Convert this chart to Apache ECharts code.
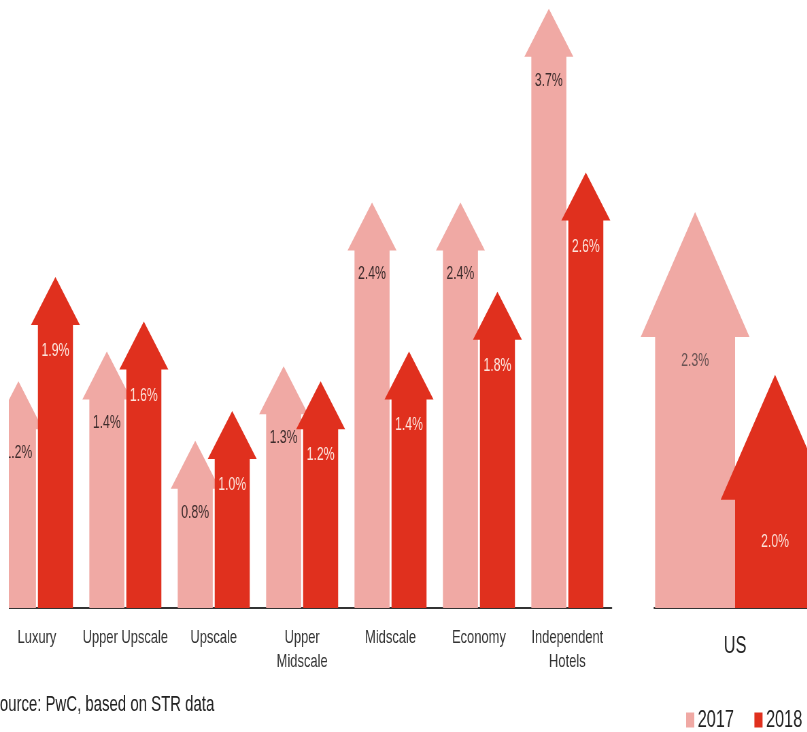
<!DOCTYPE html>
<html>
<head>
<meta charset="utf-8">
<script src="https://cdn.jsdelivr.net/npm/echarts@6/dist/echarts.min.js"></script>
<style>
html,body{margin:0;padding:0;background:#fff;overflow:hidden;width:807px;height:732px;}
#c{width:1187px;height:732px;transform:scaleX(0.68);transform-origin:0 0;}
</style>
</head>
<body>
<div id="c"></div>
<script>
// Reference image is horizontally condensed; the chart is laid out in a wider
// space and squeezed with CSS (factor 0.68) so text & shapes match.
const categories = ['Luxury', 'Upper Upscale', 'Upscale', 'Upper\nMidscale', 'Midscale', 'Economy', 'Independent\nHotels'];
const values2017 = [1.2, 1.4, 0.8, 1.3, 2.4, 2.4, 3.7];
const values2018 = [1.9, 1.6, 1.0, 1.2, 1.4, 1.8, 2.6];
const usCategories = ['US'];
const us2017 = [2.3];
const us2018 = [2.0];
const seriesNames = ['2017', '2018'];

const PINK = '#F0A9A4';
const RED = '#E0301E';
const FONT = '"Liberation Sans", Arial, sans-serif';

function arrowRenderer(offset, shaftW, headW, headH, textColor, labelDy, fontSize) {
  return function (params, api) {
    const idx = api.value(0);
    const val = api.value(1);
    const top = api.coord([idx, val]);
    const yMin = params.coordSys.y + params.coordSys.height;
    const cx = top[0] + offset;
    const ty = top[1];
    const pts = [
      [cx - shaftW / 2, yMin], [cx - shaftW / 2, ty], [cx - headW / 2, ty],
      [cx, ty - headH], [cx + headW / 2, ty], [cx + shaftW / 2, ty], [cx + shaftW / 2, yMin]
    ];
    return {
      type: 'group',
      children: [
        { type: 'polygon', shape: { points: pts }, style: { fill: api.visual('color') } },
        { type: 'text', style: { x: cx, y: ty + labelDy, text: val.toFixed(1) + '%', fill: textColor,
            font: fontSize + 'px ' + FONT, textAlign: 'center', textVerticalAlign: 'middle' } }
      ]
    };
  };
}

const chart = echarts.init(document.getElementById('c'));
chart.setOption({
  animation: false,
  backgroundColor: '#fff',
  legend: {
    data: seriesNames, left: 1004, top: 703, width: 400, itemWidth: 12, itemHeight: 15, itemGap: 30,
    icon: 'rect',
    textStyle: { fontFamily: FONT, fontSize: 24, color: '#222' }
  },
  grid: [
    { left: -10.7, width: 910, top: 12, bottom: 124, outerBoundsMode: 'none', containLabel: false },
    { left: 962, width: 238, top: 12, bottom: 124, outerBoundsMode: 'none', containLabel: false }
  ],
  xAxis: [
    { type: 'category', gridIndex: 0, data: categories, axisTick: { show: false },
      axisLine: { lineStyle: { color: '#333', width: 2 } },
      axisLabel: { interval: 0, margin: 18, fontFamily: FONT, fontSize: 19, color: '#333', lineHeight: 24 } },
    { type: 'category', gridIndex: 1, data: usCategories, axisTick: { show: false },
      axisLine: { lineStyle: { color: '#333', width: 2 } },
      axisLabel: { margin: 26, fontFamily: FONT, fontSize: 24, lineHeight: 24, color: '#222' } }
  ],
  yAxis: [
    { type: 'value', gridIndex: 0, min: 0, max: 4, show: false },
    { type: 'value', gridIndex: 1, min: 1.8, max: 2.9, show: false }
  ],
  series: [
    { name: '2017', type: 'custom', xAxisIndex: 0, yAxisIndex: 0, itemStyle: { color: PINK },
      renderItem: arrowRenderer(-27.2, 51.5, 72, 48, '#3d2c2c', 24, 18),
      data: values2017.map((v, i) => [i, v]) },
    { name: '2018', type: 'custom', xAxisIndex: 0, yAxisIndex: 0, itemStyle: { color: RED },
      renderItem: arrowRenderer(27.2, 51.5, 72, 48, '#fde4dc', 26, 18),
      data: values2018.map((v, i) => [i, v]) },
    { name: '2017', type: 'custom', xAxisIndex: 1, yAxisIndex: 1, itemStyle: { color: PINK },
      renderItem: arrowRenderer(-58.8, 117.6, 160, 125, '#6a5454', 24, 18),
      data: us2017.map((v, i) => [i, v]) },
    { name: '2018', type: 'custom', xAxisIndex: 1, yAxisIndex: 1, itemStyle: { color: RED },
      renderItem: arrowRenderer(58.8, 117.6, 160, 125, '#fde4dc', 42, 18),
      data: us2018.map((v, i) => [i, v]) }
  ],
  graphic: [
    { type: 'rect', left: 0, top: 0, shape: { width: 13, height: 640 }, style: { fill: '#fff' }, z: 100 },
    { type: 'text', left: -15, top: 694, style: { text: 'Source: PwC, based on STR data', font: '22px ' + FONT, fill: '#222' }, z: 100 }
  ]
});
</script>
</body>
</html>
